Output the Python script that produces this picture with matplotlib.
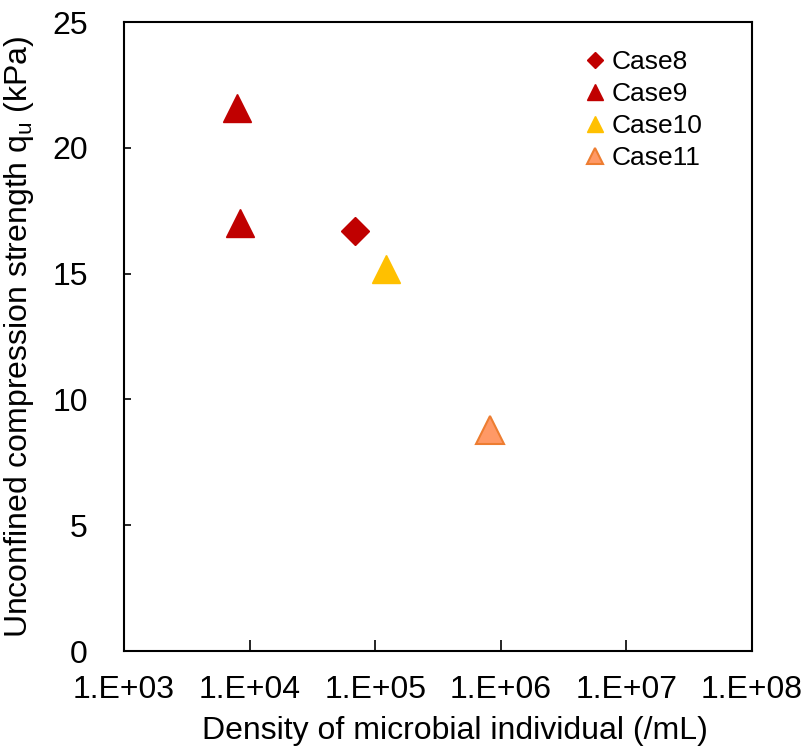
import matplotlib
matplotlib.use('Agg')
import matplotlib.pyplot as plt

plt.rcParams['font.family'] = ['Liberation Sans', 'DejaVu Sans']

# Data
case8_x = [6.9e4]
case8_y = [16.7]
case9_x = [7.9e3, 8.4e3]
case9_y = [21.6, 17.0]
case10_x = [1.23e5]
case10_y = [15.2]
case11_x = [8.2e5]
case11_y = [8.8]

xticks = [1e3, 1e4, 1e5, 1e6, 1e7, 1e8]
xtick_labels = ['1.E+03', '1.E+04', '1.E+05', '1.E+06', '1.E+07', '1.E+08']
yticks = [0, 5, 10, 15, 20, 25]

# Figure
fig = plt.figure(figsize=(8.04, 7.47), dpi=100)
ax = fig.add_axes([0.1542, 0.1285, 0.7811, 0.842])

ax.plot(case8_x, case8_y, linestyle='none', marker='D', ms=14,
        color='#C00000', label='Case8')
ax.plot(case9_x, case9_y, linestyle='none', marker='^', ms=20,
        color='#C00000', label='Case9')
ax.plot(case10_x, case10_y, linestyle='none', marker='^', ms=20,
        color='#FFC000', label='Case10')
ax.plot(case11_x, case11_y, linestyle='none', marker='^', ms=20,
        markerfacecolor='#FF9966', markeredgecolor='#ED7D31',
        markeredgewidth=1.5, label='Case11')

# Axes
ax.set_xscale('log')
ax.set_xlim(1e3, 1e8)
ax.set_ylim(0, 25)
ax.set_xticks(xticks)
ax.set_xticklabels(xtick_labels)
ax.minorticks_off()
ax.set_yticks(yticks)
ax.tick_params(axis='x', direction='in', length=8, width=1.2, pad=17,
               labelsize=23)
ax.tick_params(axis='y', direction='in', length=5, width=1.2, pad=26,
               labelsize=23)
for s in ax.spines.values():
    s.set_linewidth(1.5)

ax.set_xlabel('Density of microbial individual (/mL)', fontsize=23)
ax.xaxis.set_label_coords(0.527, -0.104)
ax.set_ylabel('Unconfined compression strength q$_\\mathregular{u}$ (kPa)',
              fontsize=23, labelpad=12)

ax.legend(loc='upper left', bbox_to_anchor=(0.72, 0.972), frameon=False,
          fontsize=19, markerscale=0.55, handlelength=0.6,
          handletextpad=0.35, labelspacing=0.3, borderaxespad=0)

fig.savefig('out.png', dpi=100)
